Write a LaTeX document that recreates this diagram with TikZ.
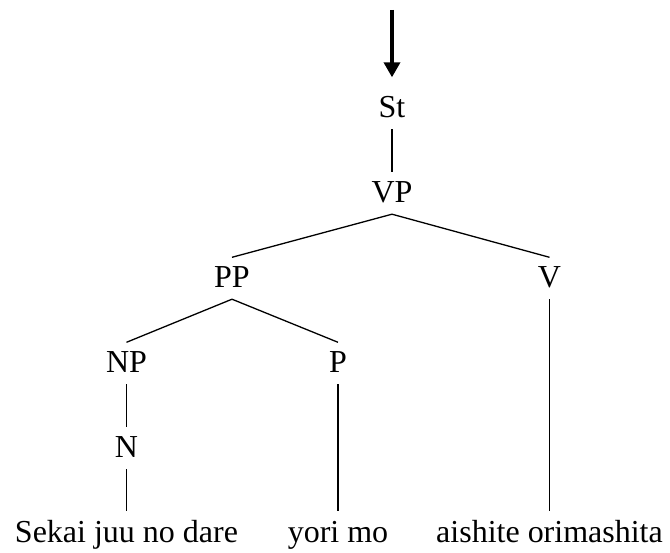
\documentclass[tikz,border=0pt]{standalone}
\usepackage{fontspec}
\setmainfont{Liberation Serif}
\usetikzlibrary{arrows.meta}
\begin{document}
\begin{tikzpicture}[x=1pt,y=-1pt,
  cat/.style={anchor=base,inner xsep=0pt,inner ysep=9pt,
    text height=21.5pt,text depth=2pt,
    font=\fontsize{32}{38}\selectfont},
  branch/.style={line width=1.3pt},
  entry/.style={line width=3.5pt,-{Triangle[width=16pt,length=15pt]},shorten >=10pt}]
\useasboundingbox (0,0) rectangle (670,553);
% category labels (positions are baselines)
\node[cat] (St) at (392,118) {St};
\node[cat] (VP) at (392,203) {VP};
\node[cat] (PP) at (232,288) {PP};
\node[cat] (V)  at (549.5,288) {V};
\node[cat] (NP) at (126.5,373) {NP};
\node[cat] (P)  at (338,373) {P};
\node[cat] (N)  at (126.5,458) {N};
% words
\node[cat] (w1) at (126.5,542) {Sekai juu no dare};
\node[cat] (w2) at (338,542) {yori mo};
\node[cat] (w3) at (549.5,542) {aishite orimashita};
% incoming arrow
\coordinate (top) at (392,10);
\draw[entry] (top) -- (St.north);
% branches, each from the mother's bottom centre to the daughter's top centre
\draw[branch] (St.south) -- (VP.north);
\draw[branch] (VP.south) -- (PP.north);
\draw[branch] (VP.south) -- (V.north);
\draw[branch] (PP.south) -- (NP.north);
\draw[branch] (PP.south) -- (P.north);
\draw[branch] (NP.south) -- (N.north);
\draw[branch] (N.south) -- (w1.north);
\draw[branch] (P.south) -- (w2.north);
\draw[branch] (V.south) -- (w3.north);
\end{tikzpicture}
\end{document}
